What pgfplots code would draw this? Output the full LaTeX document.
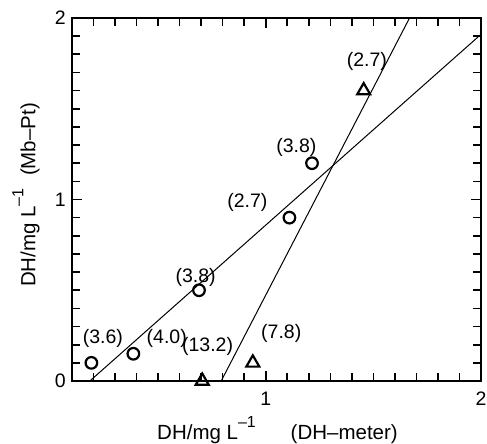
\documentclass[border=0pt]{standalone}
\usepackage{fontspec}
\setmainfont{Liberation Sans}
\usepackage{pgfplots}
\pgfplotsset{compat=1.18}

% superscript "-1" for the unit
\newcommand{\invL}{L\raisebox{12pt}{\fontsize{16}{16}\selectfont –1}}

\begin{document}
\begin{tikzpicture}
\begin{axis}[
  scale only axis,
  width=409pt, height=363pt,
  xmin=0.1, xmax=2, ymin=0, ymax=2,
  xtick={1,2}, ytick={0,1,2},
  xticklabels={1,2}, yticklabels={0,1,2},
  minor xtick={0.2,0.3,0.4,0.5,0.6,0.7,0.8,0.9,1.1,1.2,1.3,1.4,1.5,1.6,1.7,1.8,1.9},
  minor ytick={0.1,0.2,0.3,0.4,0.5,0.6,0.7,0.8,0.9,1.1,1.2,1.3,1.4,1.5,1.6,1.7,1.8,1.9},
  tick align=inside,
  major tick length=10pt, minor tick length=8pt,
  tick style={black, line width=1.6pt},
  axis line style={line width=1.6pt},
  ticklabel style={font=\fontsize{19.5}{20}\selectfont},
  xticklabel style={inner sep=0pt, anchor=north, yshift=-11pt},
  yticklabel style={inner sep=0pt, anchor=east, xshift=-6pt},
]
% regression lines
\addplot[black, line width=1pt] coordinates {(0.183,0) (2,1.91)};
\addplot[black, line width=1pt] coordinates {(0.793,0) (1.668,2)};
% circles
\addplot[only marks, mark=o, mark size=5.8pt, black,
  mark options={line width=2.2pt}]
  coordinates {(0.19,0.10) (0.385,0.15) (0.69,0.50) (1.11,0.90) (1.215,1.20)};
% triangles
\addplot[only marks, mark=triangle, mark size=7.5pt, black,
  mark options={line width=2.2pt}]
  coordinates {(0.705,0) (0.94,0.10) (1.455,1.60)};
% labels beside the points
\begin{scope}[every node/.style={font=\fontsize{19.5}{20}\selectfont, inner sep=0pt}]
\node at (axis cs:0.2435,0.237) {(3.6)};
\node at (axis cs:0.54,0.237) {(4.0)};
\node at (axis cs:0.674,0.573) {(3.8)};
\node at (axis cs:0.73,0.193) {(13.2)};
\node at (axis cs:1.072,0.264) {(7.8)};
\node at (axis cs:0.915,0.986) {(2.7)};
\node at (axis cs:1.142,1.289) {(3.8)};
\node at (axis cs:1.470,1.758) {(2.7)};
\end{scope}
\end{axis}
% axis titles
\node[anchor=base, inner sep=0pt, font=\fontsize{20.5}{21}\selectfont]
  at ([yshift=-58pt, xshift=1pt]current axis.south) {DH/mg \invL\hspace{1.7em}(DH–meter)};
\node[rotate=90, anchor=base, inner sep=0pt, font=\fontsize{20.5}{21}\selectfont]
  at ([xshift=-36.5pt, yshift=4.5pt]current axis.west) {DH/mg \invL\hspace{0.6em}(Mb–Pt)};
\path[use as bounding box] ([shift={(-72pt,-62pt)}]current axis.south west)
  rectangle ([shift={(6pt,18pt)}]current axis.north east);
\end{tikzpicture}
\end{document}
